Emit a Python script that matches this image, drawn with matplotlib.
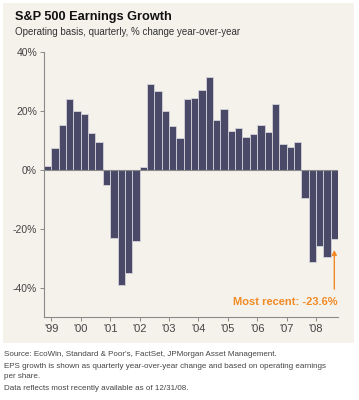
import matplotlib
matplotlib.use("Agg")
import matplotlib.pyplot as plt
from matplotlib.patches import Rectangle

plt.rcParams['font.family'] = ['Liberation Sans', 'DejaVu Sans']

# quarterly yoy operating EPS growth, 4Q98 .. 3Q08
quarters = ["4Q98"] + [f"{q}Q{y:02d}" for y in list(range(99, 100)) + list(range(0, 9))
                       for q in range(1, 5)][:39]
growth = [1.4, 7.3, 15.2, 24.0, 20.0, 18.9, 12.4, 9.3,
          -5.0, -23.3, -39.2, -35.2, -24.2, 1.0, 29.0, 26.8,
          20.0, 14.8, 10.8, 24.0, 24.4, 27.1, 31.4, 17.0,
          20.5, 13.2, 14.2, 11.3, 12.3, 15.1, 13.0, 22.4,
          8.9, 7.6, 9.5, -9.6, -31.3, -26.0, -29.6, -23.6]
year_labels = ["'99", "'00", "'01", "'02", "'03", "'04", "'05", "'06", "'07", "'08"]
y_ticks = [40, 20, 0, -20, -40]

bar_color = "#4a4a68"
orange = "#f08a24"
axis_gray = "#8a8a8a"

fig = plt.figure(figsize=(3.59, 4.0), dpi=100)
fig.patches.append(Rectangle((3 / 359, 57 / 400), 351 / 359, 340 / 400,
                             transform=fig.transFigure, facecolor="#f5f2ec",
                             edgecolor="none", zorder=-10))

ax = fig.add_axes([44 / 359, 83 / 400, 294 / 359, 265 / 400])
ax.set_facecolor("none")

x = list(range(len(growth)))
ax.bar(x, growth, width=1.0, color=bar_color, edgecolor="#d4d3dc", linewidth=0.6, zorder=2)
ax.axhline(0, color=axis_gray, linewidth=0.8, zorder=3)

ax.set_xlim(-0.5, len(growth) - 0.5)
ax.set_ylim(-50, 40)

# ticks at the first quarter of each year
q1_pos = [i - 0.5 for i, q in enumerate(quarters) if q.startswith("1Q")]
ax.set_xticks(q1_pos)
ax.set_xticklabels(year_labels)
ax.set_yticks(y_ticks)
ax.set_yticklabels([f"{v}%" for v in y_ticks])

for s in ["top", "right"]:
    ax.spines[s].set_visible(False)
for s in ["left", "bottom"]:
    ax.spines[s].set_color(axis_gray)
    ax.spines[s].set_linewidth(0.8)
ax.spines["left"].set_bounds(-50, 40)
ax.tick_params(axis="both", colors=axis_gray, labelcolor="#444444", labelsize=7.5,
               length=3, width=0.7, pad=2)
ax.tick_params(axis="x", labelsize=8)

ax.annotate("", xy=(39, -26.3), xytext=(39, -41.5),
            arrowprops=dict(arrowstyle="-|>", color=orange, lw=1.0, mutation_scale=7))
ax.text(39.45, -45, f"Most recent: {growth[-1]}%", color=orange, fontsize=8,
        fontweight="bold", ha="right", va="center")

fig.text(15 / 359, 1 - 17 / 400, "S&P 500 Earnings Growth", fontsize=9.2,
         fontweight="bold", color="#111111", va="center")
fig.text(15 / 359, 1 - 32 / 400, "Operating basis, quarterly, % change year-over-year",
         fontsize=7, color="#333333", va="center")

foot = "#444444"
fig.text(4 / 359, 1 - 354 / 400,
         "Source: EcoWin, Standard & Poor's, FactSet, JPMorgan Asset Management.",
         fontsize=5.8, color=foot, va="center")
fig.text(4 / 359, 1 - 367 / 400,
         "EPS growth is shown as quarterly year-over-year change and based on operating earnings",
         fontsize=5.8, color=foot, va="center")
fig.text(4 / 359, 1 - 376 / 400, "per share.", fontsize=5.8, color=foot, va="center")
fig.text(4 / 359, 1 - 389 / 400, "Data reflects most recently available as of 12/31/08.",
         fontsize=5.8, color=foot, va="center")

fig.savefig("out.png", dpi=100, facecolor="white")
